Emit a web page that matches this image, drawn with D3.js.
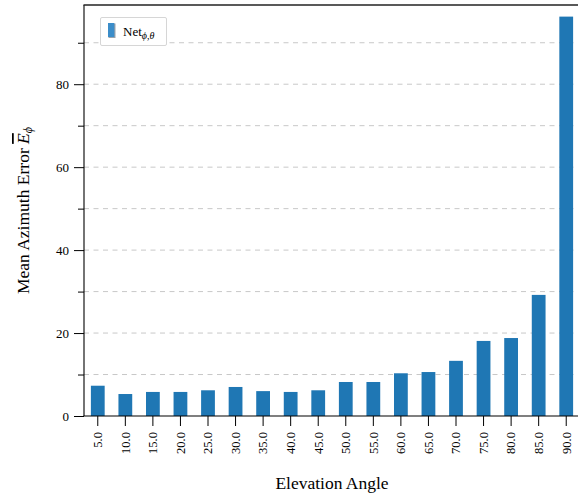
<!DOCTYPE html>
<html>
<head>
<meta charset="utf-8">
<script src="https://cdn.jsdelivr.net/npm/d3@7"></script>
<style>
  html, body { margin: 0; padding: 0; background: #fff; }
  svg { display: block; }
  svg text { font-family: "Liberation Serif", "Times New Roman", Times, serif; fill: #000; }
</style>
</head>
<body>
<svg id="chart" width="578" height="497"></svg>
<script>
// Elevation angle categories (degrees)
const categories = ["5.0","10.0","15.0","20.0","25.0","30.0","35.0","40.0","45.0",
                    "50.0","55.0","60.0","65.0","70.0","75.0","80.0","85.0","90.0"];
// Mean azimuth error per elevation angle
const meanAzimuthError = [7.3, 5.3, 5.8, 5.8, 6.2, 7.0, 6.0, 5.8, 6.2,
                          8.2, 8.2, 10.3, 10.6, 13.3, 18.1, 18.8, 29.2, 96.3];
const majorTicks = [0, 20, 40, 60, 80];
const minorTicks = [10, 30, 50, 70, 90];
const seriesName = "Net";

const FONT = "'Liberation Serif', 'Times New Roman', Times, serif";

const svg = d3.select("#chart");
const margin = { left: 84, top: 5, right: 580, bottom: 416 };

const x = d3.scaleBand()
  .domain(categories)
  .range([margin.left, margin.right])
  .paddingInner(0.5)
  .paddingOuter(0.25);

const y = d3.scaleLinear()
  .domain([0, 99.1])
  .range([margin.bottom, margin.top]);

// dashed horizontal grid at every 10
const grid = svg.append("g");
grid.selectAll("line")
  .data(majorTicks.concat(minorTicks).filter(d => d > 0))
  .join("line")
  .attr("x1", margin.left).attr("x2", margin.right)
  .attr("y1", d => y(d)).attr("y2", d => y(d))
  .attr("stroke", "#c8c8c8")
  .attr("stroke-width", 1)
  .attr("stroke-dasharray", "5,4.5");

// bars
svg.append("g").selectAll("rect")
  .data(categories.map((c, i) => ({ c, v: meanAzimuthError[i] })))
  .join("rect")
  .attr("x", d => x(d.c))
  .attr("width", x.bandwidth())
  .attr("y", d => y(d.v))
  .attr("height", d => y(0) - y(d.v))
  .attr("fill", "#1f77b4");

// y axis: major ticks with labels, minor ticks without
const yAxis = svg.append("g")
  .attr("transform", `translate(${margin.left},0)`)
  .call(d3.axisLeft(y).tickValues(majorTicks).tickSize(10).tickPadding(5).tickFormat(d3.format("d")));
yAxis.select(".domain").remove();
yAxis.attr("font-family", null).attr("font-size", null);
yAxis.selectAll("text").style("font-size", "13px").style("font-family", FONT);
yAxis.selectAll("line").attr("stroke", "#000").attr("stroke-width", 1);

const yMinor = svg.append("g")
  .attr("transform", `translate(${margin.left},0)`)
  .call(d3.axisLeft(y).tickValues(minorTicks).tickSize(6).tickFormat(""));
yMinor.select(".domain").remove();
yMinor.selectAll("line").attr("stroke", "#000").attr("stroke-width", 1);

// x axis
const xAxis = svg.append("g")
  .attr("transform", `translate(0,${margin.bottom})`)
  .call(d3.axisBottom(x).tickSize(10).tickPadding(6));
xAxis.select(".domain").remove();
xAxis.attr("font-family", null).attr("font-size", null);
xAxis.selectAll("line").attr("stroke", "#000").attr("stroke-width", 1);
xAxis.selectAll("text")
  .style("font-size", "12.5px")
  .style("font-family", FONT)
  .attr("text-anchor", "end")
  .attr("transform", "rotate(-90)")
  .attr("x", -16)
  .attr("y", 0)
  .attr("dy", "0.35em");

// spines
svg.append("line")
  .attr("x1", margin.left).attr("x2", margin.left)
  .attr("y1", margin.top).attr("y2", margin.bottom)
  .attr("stroke", "#000").attr("stroke-width", 1.1);
svg.append("line")
  .attr("x1", margin.left - 0.5).attr("x2", margin.right)
  .attr("y1", margin.bottom).attr("y2", margin.bottom)
  .attr("stroke", "#000").attr("stroke-width", 1.1);
svg.append("line")
  .attr("x1", margin.left - 0.5).attr("x2", margin.right)
  .attr("y1", margin.top).attr("y2", margin.top)
  .attr("stroke", "#222").attr("stroke-width", 1.3);
svg.append("line")
  .attr("x1", margin.right).attr("x2", margin.right)
  .attr("y1", margin.top).attr("y2", margin.bottom)
  .attr("stroke", "#000").attr("stroke-width", 1.1);

// axis titles
svg.append("text")
  .attr("x", (margin.left + margin.right) / 2)
  .attr("y", 489)
  .attr("text-anchor", "middle")
  .style("font-family", FONT)
  .style("font-size", "17.5px")
  .text("Elevation Angle");

const yTitle = svg.append("text")
  .attr("transform", `translate(29,${(margin.top + margin.bottom) / 2}) rotate(-90)`)
  .attr("text-anchor", "middle")
  .style("font-family", FONT)
  .style("font-size", "17.5px");
yTitle.append("tspan").text("Mean Azimuth Error ");
yTitle.append("tspan").attr("font-style", "italic").attr("text-decoration", "overline").text("E");
yTitle.append("tspan").attr("font-style", "italic").attr("dy", "0.25em").style("font-size", "12px").text("ϕ");

// legend
const legend = svg.append("g");
legend.append("rect")
  .attr("x", 100.5).attr("y", 17.5)
  .attr("width", 66).attr("height", 28)
  .attr("rx", 1.5)
  .attr("fill", "#fff")
  .attr("stroke", "#d6d6d6")
  .attr("stroke-width", 1);
legend.append("rect")
  .attr("x", 108.5).attr("y", 23.5)
  .attr("width", 7).attr("height", 14.5)
  .attr("fill", "#9aa3ab");
legend.append("rect")
  .attr("x", 108).attr("y", 23)
  .attr("width", 6.3).attr("height", 14)
  .attr("fill", "#3b8dc9");
const legText = legend.append("text")
  .attr("x", 123).attr("y", 36)
  .style("font-family", FONT)
  .style("font-size", "13px");
legText.append("tspan").text(seriesName);
legText.append("tspan").attr("font-style", "italic").attr("dy", "2.5").style("font-size", "10px").text("ϕ,θ");
</script>
</body>
</html>
